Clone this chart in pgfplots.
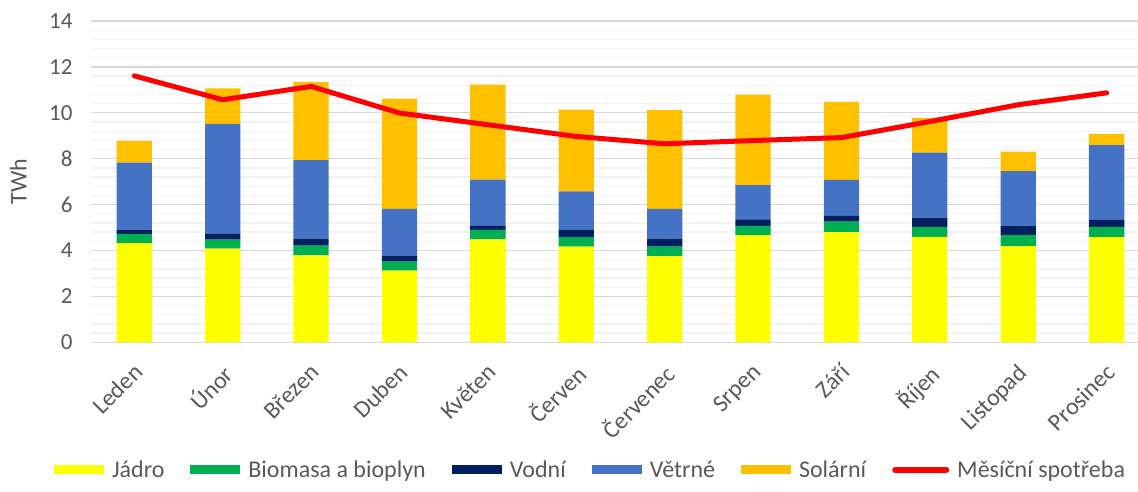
\documentclass[border=0pt]{standalone}
\usepackage{fontspec}
\setmainfont{Carlito}
\usepackage{pgfplots}
\usepackage{pgfplotstable}
\pgfplotsset{compat=1.18}

\definecolor{cJadro}{HTML}{FFFF00}
\definecolor{cBio}{HTML}{00B050}
\definecolor{cVoda}{HTML}{002060}
\definecolor{cVitr}{HTML}{4472C4}
\definecolor{cSlunce}{HTML}{FFC000}
\definecolor{cText}{HTML}{595959}
\definecolor{cGrid}{HTML}{D9D9D9}
\definecolor{cMinor}{HTML}{F2F2F2}

% mesic, jadro, biomasa, vodni, vetrne, solarni (TWh)
\pgfplotstableread{
x jadro bio vodni vitr slunce
0  4.32 0.39 0.20 2.92 0.95
1  4.08 0.39 0.25 4.80 1.54
2  3.79 0.42 0.31 3.42 3.41
3  3.12 0.40 0.24 2.05 4.81
4  4.49 0.41 0.17 2.02 4.14
5  4.17 0.41 0.32 1.68 3.56
6  3.76 0.41 0.35 1.29 4.31
7  4.67 0.40 0.29 1.49 3.94
8  4.80 0.46 0.25 1.57 3.40
9  4.59 0.44 0.38 2.85 1.52
10 4.19 0.48 0.39 2.40 0.85
11 4.58 0.45 0.30 3.26 0.49
}\vyroba

\pgfplotstableread{
x spotreba
0  11.61
1  10.57
2  11.15
3  9.99
4  9.48
5  8.97
6  8.65
7  8.79
8  8.92
9  9.62
10 10.35
11 10.87
}\spotreba

\pgfplotsset{
  spolecne/.style={
    scale only axis,
    width=1047pt, height=321.3pt,
    xmin=-0.49, xmax=11.355,
    ymin=0, ymax=14,
  },
  ctverec/.style={
    legend image code/.code={\fill[#1] (0pt,-4.5pt) rectangle (50pt,4.5pt);}
  },
  cara/.style={
    legend image code/.code={\draw[#1, line cap=round] (3pt,0pt) -- (54pt,0pt);}
  },
}

\begin{document}
\begin{tikzpicture}[font=\fontsize{24}{29}\selectfont, text=cText]
\useasboundingbox (-91pt,-149.7pt) rectangle (1047pt,342.3pt);
\begin{axis}[
    spolecne,
    ybar stacked,
    bar width=35.3pt,
    axis line style={draw=none},
    tick style={draw=none},
    ytick={0,2,...,14},
    minor y tick num=4,
    ymajorgrids=true, yminorgrids=true,
    major grid style={cGrid, line width=1.3pt},
    minor grid style={cMinor, line width=1.3pt},
    xtick={0,...,11},
    xticklabels={Leden,Únor,Březen,Duben,Květen,Červen,Červenec,Srpen,Září,Říjen,Listopad,Prosinec},
    xticklabel style={xshift=-2pt, yshift=-15pt, rotate=45, anchor=north east},
    yticklabel style={font=\fontsize{23}{28}\selectfont, xshift=-15pt},
    /pgf/number format/assume math mode=true,
    ylabel={TWh},
    ylabel style={at={(axis description cs:-0.058,0.5)}, anchor=south},
    legend columns=6,
    legend style={draw=none, fill=none, at={(0.4776,-0.397)}, anchor=center,
        /tikz/every odd column/.append style={column sep=5pt},
        /tikz/every even column/.append style={column sep=23pt},
        nodes={inner xsep=3pt}},
]
\addplot[fill=cJadro, draw=none, ctverec] table[x=x, y=jadro] {\vyroba};
\addlegendentry{Jádro}
\addplot[fill=cBio, draw=none, ctverec] table[x=x, y=bio] {\vyroba};
\addlegendentry{Biomasa a bioplyn}
\addplot[fill=cVoda, draw=none, ctverec] table[x=x, y=vodni] {\vyroba};
\addlegendentry{Vodní}
\addplot[fill=cVitr, draw=none, ctverec] table[x=x, y=vitr] {\vyroba};
\addlegendentry{Větrné}
\addplot[fill=cSlunce, draw=none, ctverec] table[x=x, y=slunce] {\vyroba};
\addlegendentry{Solární}
\addlegendimage{red, line width=6pt, cara}
\addlegendentry{Měsíční spotřeba}
\end{axis}
\begin{axis}[spolecne, hide axis]
\addplot[red, line width=5pt, line join=round, line cap=round] table[x=x, y=spotreba] {\spotreba};
\end{axis}
\end{tikzpicture}
\end{document}
